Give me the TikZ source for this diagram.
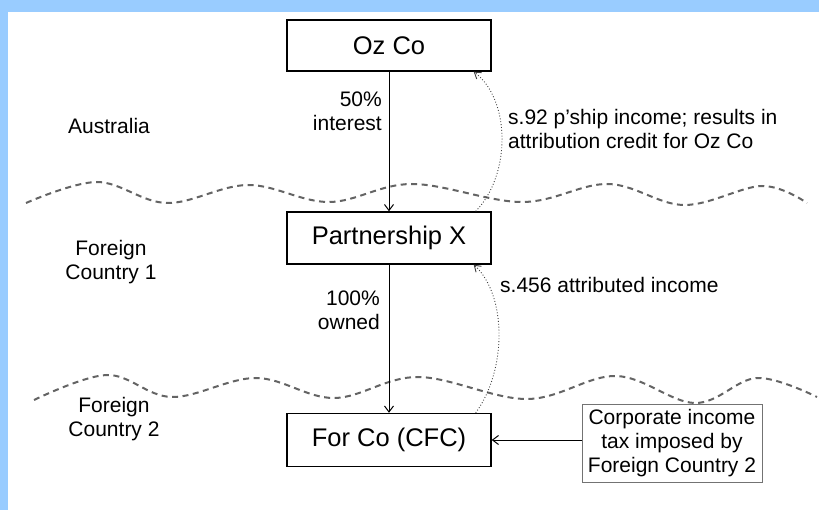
\documentclass[tikz,border=0pt]{standalone}
\usepackage{fontspec}
\setmainfont{Liberation Sans}
\usetikzlibrary{arrows.meta,calc}
\definecolor{bgblue}{RGB}{153,204,255}
\definecolor{wavegray}{RGB}{100,100,100}
\begin{document}
\begin{tikzpicture}[x=1pt,y=-1pt,
  entity/.style={draw=black,line width=1.4pt,minimum width=204pt,inner sep=0pt,font=\fontsize{25.5}{30}\selectfont},
  lbl/.style={inner sep=0pt,font=\fontsize{21}{24}\selectfont},
  own/.style={-{Straight Barb[length=6pt,width=9pt]},line width=1pt},
  attr/.style={-{Straight Barb[length=6pt,width=8pt]},line width=0.9pt,dotted,draw=black!75},
  wave/.style={draw=wavegray,line width=2pt,dash pattern=on 6pt off 4.5pt}]
\useasboundingbox (0,0) rectangle (819,510);
\fill[bgblue] (0,0) rectangle (819,510);
\fill[white] (8,12) rectangle (819,510);

% boundaries
\draw[wave] plot[smooth,tension=0.6] coordinates {(26,203) (97,182) (167,203) (248,185) (329,202) (412,184) (522,202) (608,184) (684,205) (762,186) (807,203)};
\draw[wave] plot[smooth,tension=0.6] coordinates {(34,400) (107,375) (172,397) (256,378) (334,398) (418,377) (527,399) (616,376) (695,403) (757,378) (817,397)};

% entities
\node[entity,minimum height=51pt,fill=white] (oz) at (389,45.5) {Oz Co};
\node[entity,minimum height=52pt,fill=white] (px) at (389,238) {Partnership X};
\node[entity,minimum height=53pt,fill=white] (fc) at (389,440) {For Co (CFC)};
\node[draw=black!55,line width=1pt,fill=white,minimum width=180pt,minimum height=78pt,inner sep=0pt,align=center,font=\fontsize{21}{24}\selectfont] (corp) at (672,443) {Corporate income\\tax imposed by\\Foreign Country 2};

% region labels
\node[lbl,align=center] (aus) at (109,126) {Australia};
\node[lbl,align=center] (fc1) at (111,262) {Foreign\\Country 1};
\node[lbl,align=center] (fc2) at (114,419) {Foreign\\Country 2};

% ownership arrows
\draw[own] (oz.south) -- (px.north);
\draw[own] (px.south) -- (fc.north);
\node[lbl,align=right,anchor=east] (l50) at (382,111) {50\%\\interest};
\node[lbl,align=right,anchor=east] (l100) at (380,310) {100\%\\owned};

% attribution arrows
\coordinate (p1s) at ([xshift=-16pt]px.north east);
\coordinate (p1e) at ([xshift=-18pt]oz.south east);
\draw[attr] (p1s) .. controls (511,175) and (511,100) .. (p1e);
\coordinate (p2s) at ([xshift=-16pt]fc.north east);
\coordinate (p2e) at ([xshift=-18pt]px.south east);
\draw[attr] (p2s) .. controls (507,370) and (507,295) .. (p2e);
\node[lbl,align=left,anchor=west] (s92) at (508,129) {s.92 p'ship income; results in\\attribution credit for Oz Co};
\node[lbl,anchor=west] (s456) at (500,285) {s.456 attributed income};

% tax arrow
\draw[own] (corp.west |- fc.east) -- (fc.east);
\end{tikzpicture}
\end{document}
